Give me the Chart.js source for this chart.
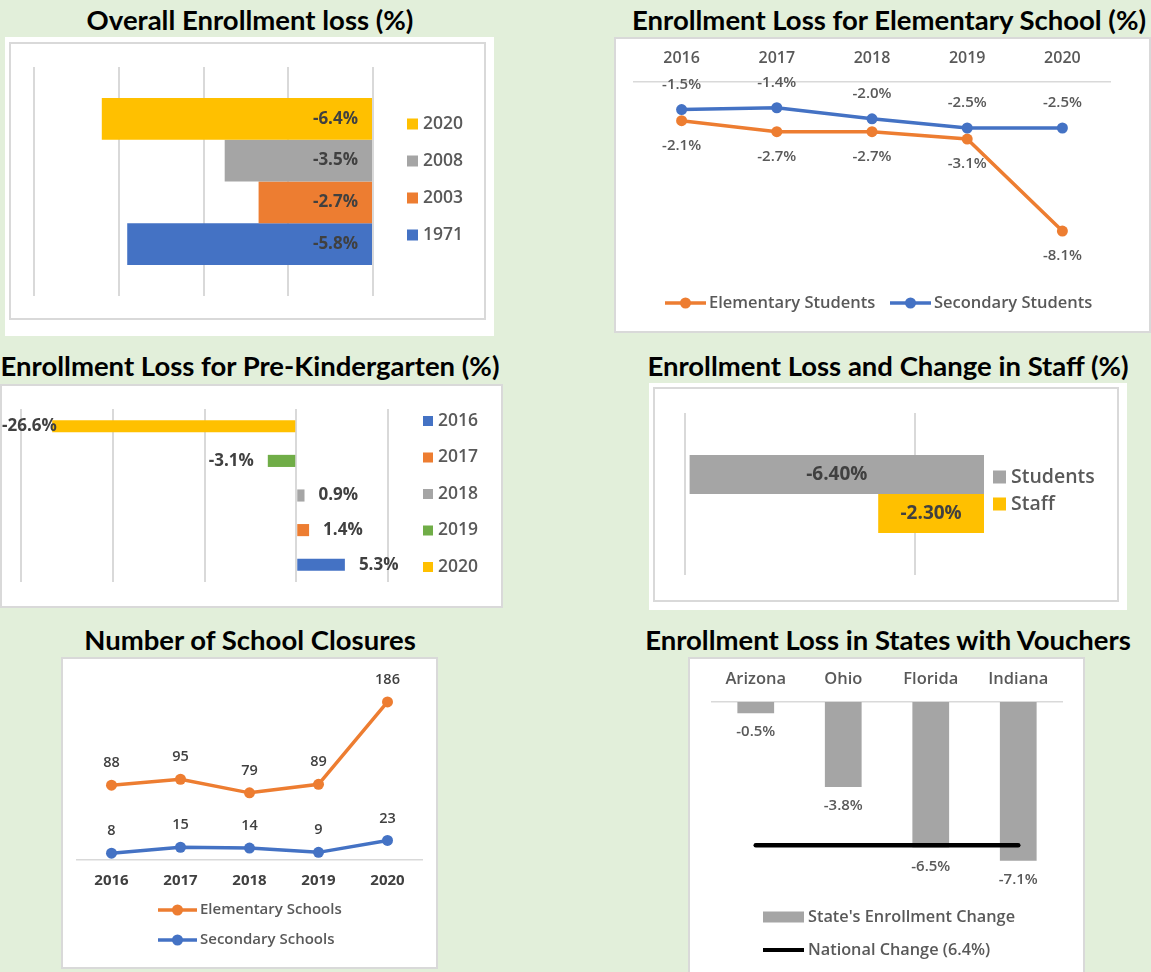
<!DOCTYPE html>
<html>
<head>
<meta charset="utf-8">
<title>Enrollment loss</title>
<script src="https://cdn.jsdelivr.net/npm/chart.js@4.4.1/dist/chart.umd.min.js"></script>
<style>
  body { margin: 0; width: 1151px; height: 972px; background: #e2efda; position: relative; overflow: hidden; }
  .title { position: absolute; width: 560px; text-align: center; font: bold 27.5px Lato, sans-serif; line-height: 30px; color: #000; white-space: nowrap; }
  .box { position: absolute; background: #fff; }
  .frame { position: absolute; box-sizing: border-box; border: 2px solid #d9d9d9; }
  .box canvas { position: absolute; left: 0; top: 0; }
</style>
</head>
<body>

<div class="title" style="left:-30px; top:5px">Overall Enrollment loss (%)</div>
<div class="box" style="left:5px; top:37px; width:489px; height:299px">
  <div class="frame" style="left:4px; top:5px; width:477px; height:278px"></div>
  <canvas id="overall" width="489" height="299"></canvas>
</div>

<div class="title" style="left:609px; top:5px">Enrollment Loss for Elementary School (%)</div>
<div class="box" style="left:614px; top:37px; width:537px; height:296px">
  <div class="frame" style="left:0; top:0; width:537px; height:296px"></div>
  <canvas id="elementary" width="537" height="296"></canvas>
</div>

<div class="title" style="left:-30px; top:351px">Enrollment Loss for Pre-Kindergarten (%)</div>
<div class="box" style="left:0; top:384px; width:503px; height:224px">
  <div class="frame" style="left:0; top:0; width:503px; height:224px"></div>
  <canvas id="prek" width="503" height="224"></canvas>
</div>

<div class="title" style="left:608px; top:351px">Enrollment Loss and Change in Staff (%)</div>
<div class="box" style="left:649px; top:383px; width:478px; height:227px">
  <div class="frame" style="left:4px; top:4px; width:466px; height:215px"></div>
  <canvas id="staff" width="478" height="227"></canvas>
</div>

<div class="title" style="left:-30px; top:625px">Number of School Closures</div>
<div class="box" style="left:61px; top:657px; width:377px; height:312px">
  <div class="frame" style="left:0; top:0; width:377px; height:312px"></div>
  <canvas id="closures" width="377" height="312"></canvas>
</div>

<div class="title" style="left:608px; top:625px">Enrollment Loss in States with Vouchers</div>
<div class="box" style="left:688px; top:657px; width:397px; height:315px">
  <div class="frame" style="left:0; top:0; width:397px; height:320px"></div>
  <canvas id="vouchers" width="397" height="315"></canvas>
</div>

<script>
// ---- data ----
const overallYears = ['2020', '2008', '2003', '1971'];
const overallLoss = [-6.4, -3.5, -2.7, -5.8];

const elemYears = ['2016', '2017', '2018', '2019', '2020'];
const elementaryStudents = [-2.1, -2.7, -2.7, -3.1, -8.1];
const secondaryStudents = [-1.5, -1.4, -2.0, -2.5, -2.5];

const preKYears = ['2016', '2017', '2018', '2019', '2020'];
const preKChange = [5.3, 1.4, 0.9, -3.1, -26.6];

const staffGroups = ['Students', 'Staff'];
const staffChange = [-6.4, -2.3];
const staffGridTicks = [-6.5, -1.5];

const closureYears = ['2016', '2017', '2018', '2019', '2020'];
const elementaryClosures = [88, 95, 79, 89, 186];
const secondaryClosures = [8, 15, 14, 9, 23];

const voucherStates = ['Arizona', 'Ohio', 'Florida', 'Indiana'];
const stateEnrollmentChange = [-0.5, -3.8, -6.5, -7.1];
const nationalChange = [-6.4, -6.4, -6.4, -6.4];

// ---- colours ----
const BLUE = '#4472c4', ORANGE = '#ed7d31', GRAY = '#a5a5a5', YELLOW = '#ffc000', GREEN = '#70ad47';
const overallColors = [YELLOW, GRAY, ORANGE, BLUE];
const preKColors = [BLUE, ORANGE, GRAY, GREEN, YELLOW];
const staffColors = [GRAY, YELLOW];

Chart.defaults.font.family = "'Open Sans', sans-serif";
Chart.defaults.color = '#595959';
Chart.defaults.animation = false;
Chart.defaults.responsive = false;
Chart.defaults.plugins.legend.display = false;
Chart.defaults.plugins.tooltip.enabled = false;

// value labels next to bars / points
function valueLabels(font, color, format, place, skip) {
  return {
    id: 'valueLabels',
    afterDatasetsDraw(chart) {
      const ctx = chart.ctx;
      ctx.save();
      ctx.font = font;
      ctx.fillStyle = color;
      ctx.textBaseline = 'middle';
      chart.data.datasets.forEach((ds, di) => {
        if (skip && skip.includes(di)) return;
        chart.getDatasetMeta(di).data.forEach((el, i) => {
          const v = ds.data[i];
          const text = format(v);
          const p = place(el, v, di, ctx.measureText(text).width);
          ctx.textAlign = p.align || 'center';
          ctx.fillText(text, p.x, p.y);
        });
      });
      ctx.restore();
    }
  };
}

// legend with boxes or line markers
function boxLegend(items, o) {
  return {
    id: 'boxLegend',
    afterDraw(chart) {
      const ctx = chart.ctx;
      ctx.save();
      ctx.font = o.font;
      ctx.textBaseline = 'middle';
      ctx.textAlign = 'left';
      items.forEach((it, i) => {
        const x = o.x + (o.dx || 0) * i;
        const y = o.y + (o.dy || 0) * i;
        if (it.kind === 'line') {
          ctx.strokeStyle = it.color;
          ctx.lineWidth = o.lineWidth || 3.5;
          ctx.beginPath();
          ctx.moveTo(x, y);
          ctx.lineTo(x + o.mark, y);
          ctx.stroke();
          if (it.dot) {
            ctx.fillStyle = it.color;
            ctx.beginPath();
            ctx.arc(x + o.mark / 2, y, it.dot, 0, Math.PI * 2);
            ctx.fill();
          }
        } else {
          ctx.fillStyle = it.color;
          ctx.fillRect(x, y - o.boxH / 2, o.mark, o.boxH);
        }
        ctx.fillStyle = o.color || '#595959';
        ctx.fillText(it.text, x + o.mark + o.gap, y);
      });
      ctx.restore();
    }
  };
}

const pct1 = v => v.toFixed(1) + '%';
const gridLines = { color: '#d9d9d9', lineWidth: 2, drawTicks: false };

// 1. Overall enrollment loss
new Chart(document.getElementById('overall'), {
  type: 'bar',
  data: {
    labels: ['Overall'],
    datasets: overallYears.map((y, i) => ({ label: y, data: [overallLoss[i]], backgroundColor: overallColors[i] }))
  },
  options: {
    indexAxis: 'y',
    layout: { padding: { left: 29, right: 121, top: 30, bottom: 40 } },
    datasets: { bar: { categoryPercentage: 0.73, barPercentage: 1 } },
    scales: {
      x: { min: -8, max: 0, ticks: { stepSize: 2, display: false }, grid: gridLines, border: { display: false } },
      y: { display: false }
    }
  },
  plugins: [
    valueLabels('700 17px "Open Sans"', '#404040', pct1, (el, v, di, w) => ({ x: el.base - 14, y: el.y, align: 'right' })),
    boxLegend(overallYears.map((y, i) => ({ text: y, color: overallColors[i] })),
      { x: 402, y: 87, dy: 37, mark: 11, boxH: 11, gap: 5, font: '600 17.5px "Open Sans"' })
  ]
});

// 2. Elementary vs secondary students
new Chart(document.getElementById('elementary'), {
  type: 'line',
  data: {
    labels: elemYears,
    datasets: [
      { label: 'Elementary Students', data: elementaryStudents, borderColor: ORANGE, backgroundColor: ORANGE, order: 1 },
      { label: 'Secondary Students', data: secondaryStudents, borderColor: BLUE, backgroundColor: BLUE, order: 0 }
    ]
  },
  options: {
    layout: { padding: { left: 20, right: 41, top: 0, bottom: 67 } },
    elements: { line: { borderWidth: 3.5, tension: 0 }, point: { radius: 5.5, borderWidth: 0 } },
    scales: {
      x: {
        position: 'top', offset: true,
        grid: { display: false, drawTicks: false },
        border: { color: '#d9d9d9', width: 1.5 },
        ticks: { font: { size: 16, weight: '600' }, padding: 14, color: '#595959' },
        afterFit: s => { s.height = 45; }
      },
      y: { display: false, min: -10, max: 0 }
    }
  },
  plugins: [
    valueLabels('600 15px "Open Sans"', '#595959', pct1,
      (el, v, di) => ({ x: el.x, y: di === 0 ? el.y + 25 : el.y - 25 })),
    boxLegend([
      { text: 'Elementary Students', color: ORANGE, kind: 'line', dot: 5.5 },
      { text: 'Secondary Students', color: BLUE, kind: 'line', dot: 5.5 }
    ], { x: 51, y: 266, dx: 225, mark: 41, gap: 3, font: '600 16.5px "Open Sans"' })
  ]
});

// 3. Pre-kindergarten
new Chart(document.getElementById('prek'), {
  type: 'bar',
  data: {
    labels: preKYears,
    datasets: [{ data: preKChange, backgroundColor: preKColors }]
  },
  options: {
    indexAxis: 'y',
    layout: { padding: { left: 21, right: 115, top: 25, bottom: 26 } },
    datasets: { bar: { categoryPercentage: 1, barPercentage: 0.35 } },
    scales: {
      x: { min: -30, max: 10, ticks: { stepSize: 10, display: false }, grid: gridLines, border: { display: false } },
      y: { display: false, reverse: true }
    }
  },
  plugins: [
    valueLabels('700 17px "Open Sans"', '#404040', pct1, (el, v, di, w) => v >= 0
      ? { x: el.x + 14, y: el.y, align: 'left' }
      : { x: Math.max(el.x - 14, w + 2), y: el.y, align: 'right' }),
    boxLegend(preKYears.map((y, i) => ({ text: y, color: preKColors[i] })),
      { x: 423, y: 37, dy: 36.5, mark: 10, boxH: 10, gap: 5, font: '600 17.5px "Open Sans"' })
  ]
});

// 4. Students vs staff
new Chart(document.getElementById('staff'), {
  type: 'bar',
  data: {
    labels: ['Change'],
    datasets: staffGroups.map((g, i) => ({ label: g, data: [staffChange[i]], backgroundColor: staffColors[i] }))
  },
  options: {
    indexAxis: 'y',
    layout: { padding: { left: 36, right: 143, top: 30, bottom: 35 } },
    datasets: { bar: { categoryPercentage: 0.48, barPercentage: 1 } },
    scales: {
      x: {
        min: -6.5, max: 0, ticks: { display: false }, grid: gridLines, border: { display: false },
        afterBuildTicks: s => { s.ticks = staffGridTicks.map(v => ({ value: v })); }
      },
      y: { display: false }
    }
  },
  plugins: [
    valueLabels('700 19px "Open Sans"', '#404040', v => v.toFixed(2) + '%',
      el => ({ x: (el.x + el.base) / 2, y: el.y })),
    boxLegend(staffGroups.map((g, i) => ({ text: g, color: staffColors[i] })),
      { x: 344, y: 94, dy: 27, mark: 13, boxH: 13, gap: 5, font: '600 19.5px "Open Sans"' })
  ]
});

// 5. School closures
new Chart(document.getElementById('closures'), {
  type: 'line',
  data: {
    labels: closureYears,
    datasets: [
      { label: 'Elementary Schools', data: elementaryClosures, borderColor: ORANGE, backgroundColor: ORANGE },
      { label: 'Secondary Schools', data: secondaryClosures, borderColor: BLUE, backgroundColor: BLUE }
    ]
  },
  options: {
    layout: { padding: { left: 16, right: 16, top: 33, bottom: 0 } },
    elements: { line: { borderWidth: 3.5, tension: 0 }, point: { radius: 5.5, borderWidth: 0 } },
    scales: {
      x: {
        offset: true,
        grid: { display: false, drawTicks: false },
        border: { color: '#d9d9d9', width: 1.5 },
        ticks: { font: { size: 15, weight: '700' }, padding: 12, color: '#404040' },
        afterFit: s => { s.height = 109; }
      },
      y: { display: false, min: 0, max: 200 }
    }
  },
  plugins: [
    valueLabels('600 14.5px "Open Sans"', '#404040', v => String(v), el => ({ x: el.x, y: el.y - 22 })),
    boxLegend([
      { text: 'Elementary Schools', color: ORANGE, kind: 'line', dot: 5.5 },
      { text: 'Secondary Schools', color: BLUE, kind: 'line', dot: 5.5 }
    ], { x: 97, y: 253, dy: 30, mark: 39, gap: 3, font: '600 15px "Open Sans"' })
  ]
});

// 6. States with vouchers
new Chart(document.getElementById('vouchers'), {
  data: {
    labels: voucherStates,
    datasets: [
      { type: 'bar', label: "State's Enrollment Change", data: stateEnrollmentChange, backgroundColor: GRAY,
        barPercentage: 0.42, categoryPercentage: 1, order: 1 },
      { type: 'line', label: 'National Change (6.4%)', data: nationalChange, borderColor: '#000',
        borderWidth: 4.5, borderCapStyle: 'round', pointRadius: 0, order: 0 }
    ]
  },
  options: {
    layout: { padding: { left: 24, right: 23, top: 0, bottom: 91 } },
    scales: {
      x: {
        position: 'top', offset: true,
        grid: { display: false, drawTicks: false },
        border: { color: '#d9d9d9', width: 1.5 },
        ticks: { font: { size: 16.5, weight: '600' }, padding: 13, color: '#595959' },
        afterFit: s => { s.height = 45; }
      },
      y: { display: false, min: -8, max: 0 }
    }
  },
  plugins: [
    valueLabels('600 15px "Open Sans"', '#595959', pct1, el => ({ x: el.x, y: el.y + 19 }), [1]),
    boxLegend([
      { text: "State's Enrollment Change", color: GRAY },
      { text: 'National Change (6.4%)', color: '#000', kind: 'line' }
    ], { x: 75, y: 260, dy: 33, mark: 41, boxH: 11, gap: 4, lineWidth: 4, font: '600 16.3px "Open Sans"' })
  ]
});
</script>
</body>
</html>
